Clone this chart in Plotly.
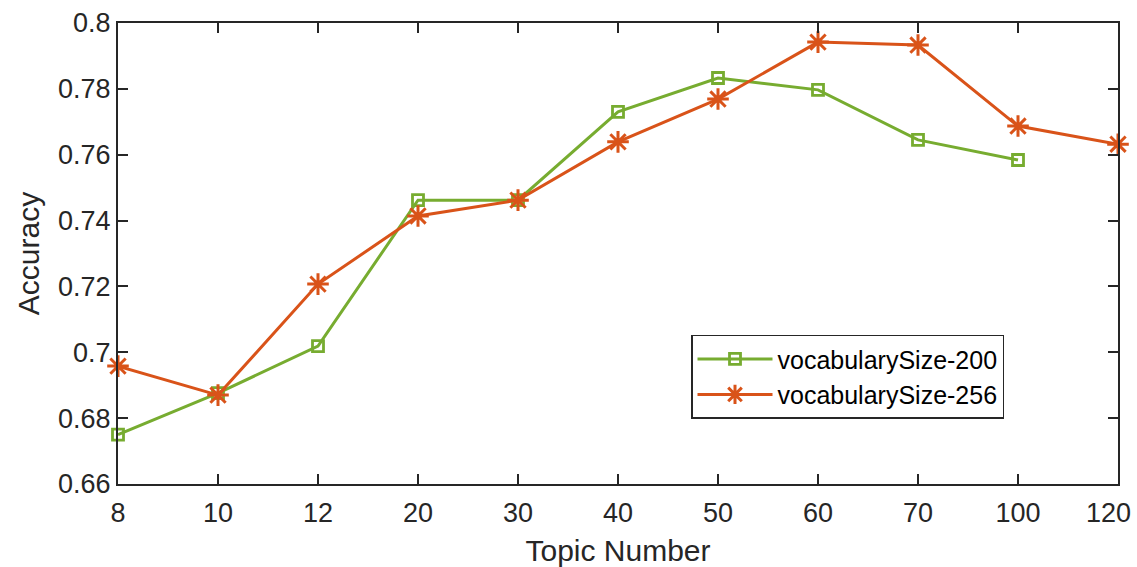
import plotly.graph_objects as go

topics = ["8", "10", "12", "20", "30", "40", "50", "60", "70", "100", "120"]
acc_200 = [0.6750, 0.6876, 0.7019, 0.7462, 0.7462, 0.7730, 0.7833, 0.7797, 0.7645, 0.7584, None]
acc_256 = [0.6958, 0.6870, 0.7207, 0.7414, 0.7462, 0.7639, 0.7769, 0.7942, 0.7933, 0.7687, 0.7632]
y_ticks = [0.66, 0.68, 0.70, 0.72, 0.74, 0.76, 0.78, 0.80]
y_tick_text = ["0.66", "0.68", "0.7", "0.72", "0.74", "0.76", "0.78", "0.8"]

GREEN = "#77AC30"
RED = "#D95319"
AX = "#262626"
FONT = "Liberation Sans, Arial, Helvetica, sans-serif"

# last x label is drawn as an annotation at the axis end (last category),
# right-aligned so it stays inside the page, as in the reference
x_tick_text = topics[:-1] + [""]

fig = go.Figure()
fig.add_trace(go.Scatter(
    x=topics, y=acc_200, mode="lines+markers", name="vocabularySize-200",
    line=dict(color=GREEN, width=3),
    marker=dict(symbol="square-open", size=11, color=GREEN, line=dict(width=2.8, color=GREEN)),
    cliponaxis=False, connectgaps=False,
))
fig.add_trace(go.Scatter(
    x=topics, y=acc_256, mode="lines+markers", name="vocabularySize-256",
    line=dict(color=RED, width=3),
    marker=dict(symbol="asterisk-open", size=18, color=RED, line=dict(width=3, color=RED)),
    cliponaxis=False,
))

fig.add_annotation(
    x=1, xref="paper", y=0, yref="paper",
    text=topics[-1], showarrow=False,
    xanchor="right", yanchor="top", xshift=15, yshift=-12,
    font=dict(size=27, color=AX, family=FONT),
)

fig.update_layout(
    width=1137, height=567,
    margin=dict(l=118, r=19, t=23, b=83, autoexpand=False),
    paper_bgcolor="white", plot_bgcolor="white",
    font=dict(family=FONT, color=AX, size=27),
    showlegend=True,
    legend=dict(
        x=0.573, y=0.324, xanchor="left", yanchor="top",
        bgcolor="white", bordercolor=AX, borderwidth=1.5,
        font=dict(size=25, color="#000000", family=FONT),
        itemwidth=75, tracegroupgap=0,
    ),
    xaxis=dict(
        type="category", categoryorder="array", categoryarray=topics,
        tickmode="array", tickvals=topics, ticktext=x_tick_text,
        range=[0, len(topics) - 1], automargin=False,
        showline=True, linecolor=AX, linewidth=2, mirror="allticks",
        ticks="inside", ticklen=10, tickwidth=2, tickcolor=AX,
        showgrid=False, zeroline=False, ticklabelstandoff=4,
        tickfont=dict(size=27, color=AX),
        title=dict(text="Topic Number", font=dict(size=30, color=AX), standoff=14),
    ),
    yaxis=dict(
        range=[0.66, 0.80], automargin=False,
        tickvals=y_ticks, ticktext=y_tick_text,
        showline=True, linecolor=AX, linewidth=2, mirror="allticks",
        ticks="inside", ticklen=10, tickwidth=2, tickcolor=AX,
        showgrid=False, zeroline=False,
        tickfont=dict(size=27, color=AX),
        title=dict(text="Accuracy", font=dict(size=30, color=AX), standoff=10),
    ),
)

fig.write_html("out.html")
